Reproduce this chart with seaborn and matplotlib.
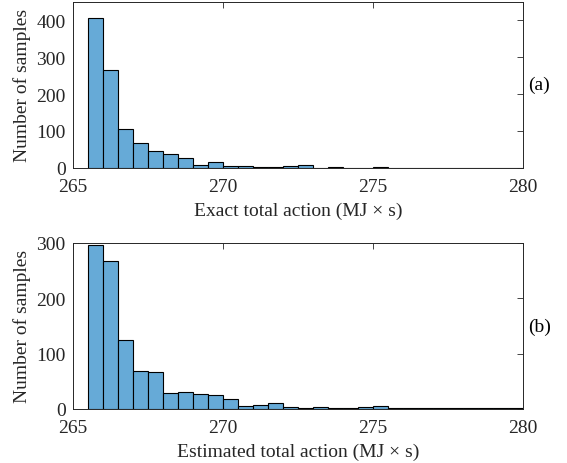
import numpy as np
import pandas as pd
import matplotlib
matplotlib.use("Agg")
import matplotlib.pyplot as plt
import seaborn as sns

# histogram counts, bins of 0.5 starting at 265.5
bin_edges = [265.5 + 0.5 * i for i in range(30)]
exact_counts = [405, 266, 105, 68, 45, 38, 26, 8, 15, 6,
                6, 3, 2, 4, 7, 1, 3, 1, 1, 2,
                1, 1, 0, 0, 0, 0, 0, 0, 0]
estimated_counts = [296, 267, 124, 69, 66, 29, 31, 27, 25, 18,
                    6, 8, 10, 4, 2, 4, 1, 2, 3, 6,
                    1, 2, 1, 1, 1, 1, 1, 1, 1]
x_ticks = [265, 270, 275, 280]
exact_yticks = [0, 100, 200, 300, 400]
estimated_yticks = [0, 100, 200, 300]
panels = [
    ("Exact total action (MJ × s)", exact_counts, exact_yticks, 450, "(a)"),
    ("Estimated total action (MJ × s)", estimated_counts, estimated_yticks, 300, "(b)"),
]

sns.set_style("white")
plt.rcParams["font.family"] = ["Liberation Serif", "DejaVu Serif"]

bar_color = "#66aad7"
axis_color = "#262626"
fs = 14

fig = plt.figure(figsize=(5.67, 4.64), dpi=100)
bottoms = [0.636, 0.1164]
centers = [e + 0.25 for e in bin_edges[:-1]]

for (xlabel, counts, yticks, ytop, tag), bot in zip(panels, bottoms):
    ax = fig.add_axes([0.128, bot, 0.7945, 0.358])
    df = pd.DataFrame({"x": centers, "n": counts})
    sns.histplot(data=df, x="x", weights="n", bins=bin_edges, ax=ax,
                 color=bar_color, alpha=1.0, edgecolor="black", linewidth=0.8)
    ax.set_xlim(265, 280)
    ax.set_ylim(0, ytop)
    ax.set_xticks(x_ticks)
    ax.set_yticks(yticks)
    ax.set_xlabel(xlabel, fontsize=fs, color=axis_color)
    ax.set_ylabel("Number of samples", fontsize=fs, color=axis_color)
    ax.xaxis.set_label_coords(0.5, -0.205)
    ax.yaxis.set_label_coords(-0.092, 0.5)
    ax.tick_params(direction="in", top=True, right=True, length=4,
                   width=0.6, labelsize=fs, colors=axis_color)
    ax.tick_params(axis="x", pad=7)
    ax.tick_params(axis="y", pad=5)
    for s in ax.spines.values():
        s.set_color(axis_color)
        s.set_linewidth(0.7)
    ax.text(1.012, 0.5, tag, transform=ax.transAxes, fontsize=fs,
            va="center", ha="left", color="black")

fig.savefig("out.png", dpi=100)
